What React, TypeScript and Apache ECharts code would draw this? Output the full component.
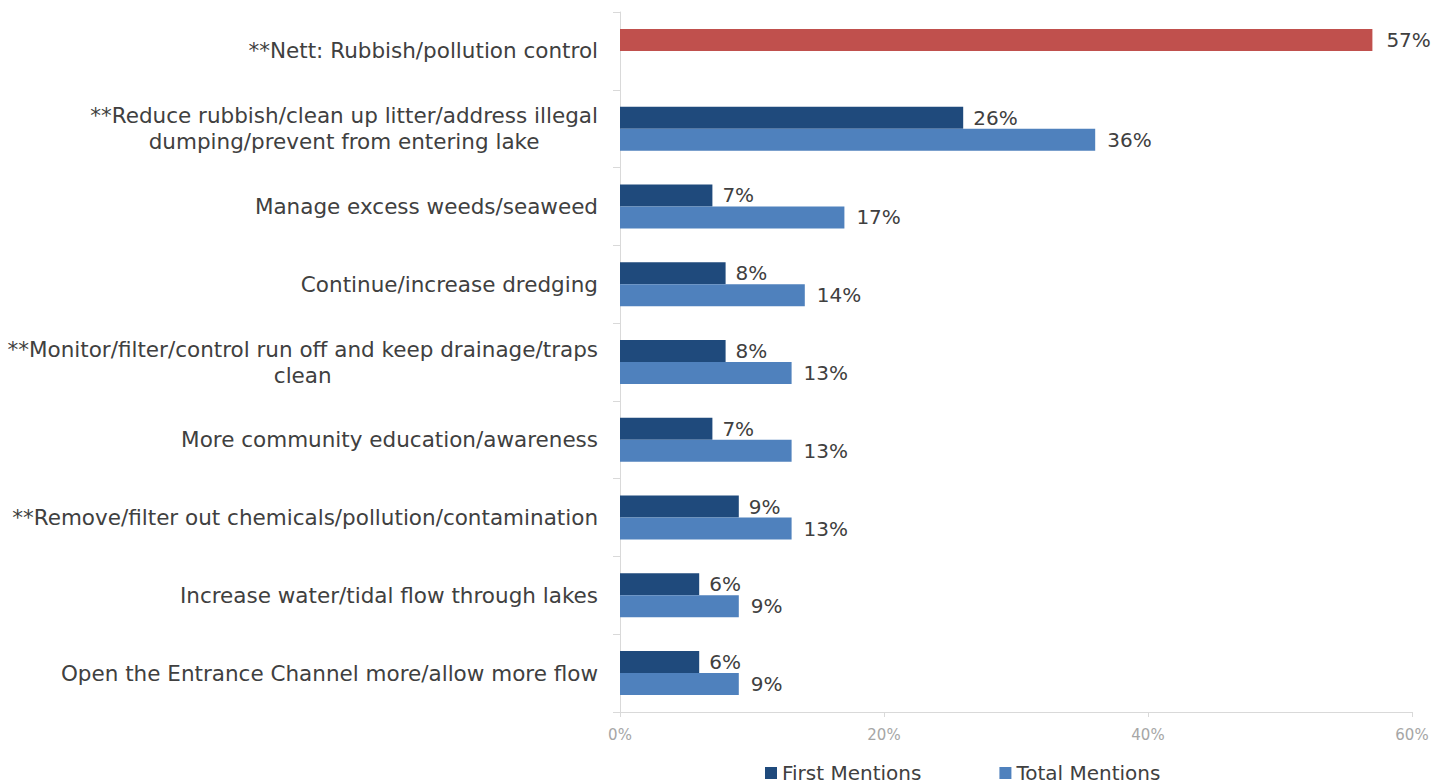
import React, { useEffect, useRef } from "react";
import * as echarts from "echarts";

const categories: string[] = [
  "**Nett: Rubbish/pollution control",
  "**Reduce rubbish/clean up litter/address illegal\ndumping/prevent from entering lake",
  "Manage excess weeds/seaweed",
  "Continue/increase dredging",
  "**Monitor/filter/control run off and keep drainage/traps\nclean",
  "More community education/awareness",
  "**Remove/filter out chemicals/pollution/contamination",
  "Increase water/tidal flow through lakes",
  "Open the Entrance Channel more/allow more flow",
];
const firstMentions: number[] = [57, 26, 7, 8, 8, 7, 9, 6, 6];
const totalMentions: (number | null)[] = [null, 36, 17, 14, 13, 13, 13, 9, 9];
const xTicks = { min: 0, max: 60, interval: 20 };

const FONT = "DejaVu Sans";
const DARK = "#1F4A7C";
const LIGHT = "#4F81BD";
const RED = "#C0504D";
const TEXT = "#404040";
const FS = 20;
const CAT_FS = 21.5;

export default function App() {
  const ref = useRef<HTMLDivElement>(null);
  useEffect(() => {
    if (!ref.current) return;
    const chart = echarts.init(ref.current, undefined, { renderer: "svg" });
    const option: any = {
      animation: false,
      textStyle: { fontFamily: FONT },
      grid: { left: 620, right: 34, top: 12, bottom: 72, containLabel: false },
      legend: {
        left: 760,
        top: 758,
        itemWidth: 12,
        itemHeight: 12,
        itemGap: 78,
        icon: "rect",
        textStyle: { fontFamily: FONT, fontSize: FS, color: TEXT },
        data: ["First Mentions", "Total Mentions"],
      },
      xAxis: {
        type: "value",
        min: xTicks.min,
        max: xTicks.max,
        interval: xTicks.interval,
        axisLine: { show: true, lineStyle: { color: "#D9D9D9", width: 1 } },
        axisTick: { show: true, length: 5, lineStyle: { color: "#D9D9D9" } },
        splitLine: { show: false },
        axisLabel: {
          formatter: "{value}%",
          color: "#A6A6A6",
          fontFamily: FONT,
          fontSize: 15,
          margin: 15,
        },
      },
      yAxis: {
        type: "category",
        inverse: true,
        data: categories,
        axisLine: { show: true, lineStyle: { color: "#D9D9D9", width: 1 } },
        axisTick: { show: true, length: 7, alignWithLabel: false, lineStyle: { color: "#D9D9D9" } },
        axisLabel: {
          margin: 22,
          color: TEXT,
          fontFamily: FONT,
          fontSize: CAT_FS,
          lineHeight: 26,
          formatter: (v: string) =>
            v
              .split("\n")
              .map((l) => "{c|" + l + "}")
              .join("\n"),
          rich: {
            c: { align: "center", fontFamily: FONT, fontSize: CAT_FS, color: TEXT, lineHeight: 26 },
          },
        },
      },
      series: [
        {
          name: "First Mentions",
          type: "bar",
          barWidth: 22,
          barGap: "0%",
          itemStyle: { color: DARK },
          label: {
            show: true,
            position: "right",
            distance: 10,
            formatter: "{c}%",
            color: TEXT,
            fontFamily: FONT,
            fontSize: FS,
          },
          data: firstMentions.map((v, i) =>
            i === 0
              ? { value: v, itemStyle: { color: RED }, label: { distance: 14 } }
              : { value: v }
          ),
        },
        {
          name: "Total Mentions",
          type: "bar",
          barWidth: 22,
          barGap: "0%",
          itemStyle: { color: LIGHT },
          label: {
            show: true,
            position: "right",
            distance: 12,
            formatter: "{c}%",
            color: TEXT,
            fontFamily: FONT,
            fontSize: FS,
          },
          data: totalMentions,
        },
      ],
    };
    chart.setOption(option);
    return () => chart.dispose();
  }, []);
  return (
    <div
      ref={ref}
      style={{ position: "absolute", left: 0, top: 0, width: 1446, height: 784, background: "#fff" }}
    />
  );
}
